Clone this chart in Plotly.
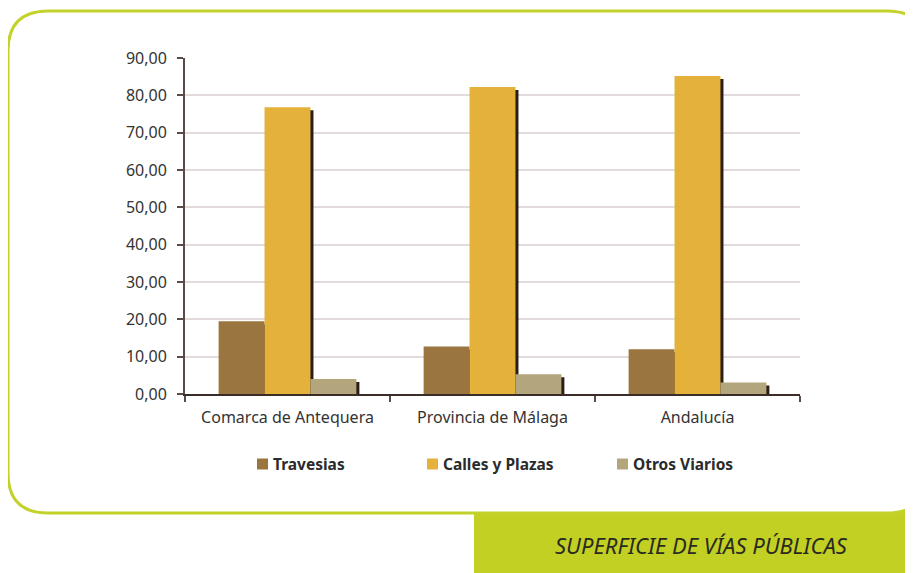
import plotly.graph_objects as go

categories = ["Comarca de Antequera", "Provincia de Málaga", "Andalucía"]
series_names = ["Travesias", "Calles y Plazas", "Otros Viarios"]
travesias = [19.5, 12.7, 12.0]
calles = [76.8, 82.2, 85.2]
otros = [4.0, 5.3, 3.1]
y_ticks = [0, 10, 20, 30, 40, 50, 60, 70, 80, 90]
title_text = "SUPERFICIE DE VÍAS PÚBLICAS"

values = [travesias, calles, otros]
colors = ["#9b7540", "#e4b13a", "#b4a67c"]
shadow_color = "#2a1e16"

OFF = 8  # browser body margin
W, H = 913 - OFF, 573 - OFF
L, R, T, B = 185, 800, 58, 394  # plot area in reference px

PW, PH = R - L, B - T

def px_x(px):
    return (px - L) / PW

def px_y(py):
    return (B - py) / PH

bar_w = 0.224
offsets = [-0.336, -0.112, 0.112]
shadow_dx = 3.0 / (PW / 3)
shadow_dy = 3.0 * 90 / PH

fig = go.Figure()
for i, vals in enumerate(values):
    fig.add_trace(go.Bar(
        x=categories, y=[max(v - shadow_dy, 0) for v in vals],
        width=bar_w, offset=offsets[i] + shadow_dx,
        marker=dict(color=shadow_color, line=dict(width=0)),
        showlegend=False, hoverinfo="skip"))
for i, vals in enumerate(values):
    fig.add_trace(go.Bar(
        x=categories, y=vals, name=series_names[i],
        width=bar_w, offset=offsets[i],
        marker=dict(color=colors[i], line=dict(width=0)),
        showlegend=False))

shapes = []
shapes.append(dict(type="rect", xref="paper", yref="paper", layer="below",
                   x0=px_x(474), x1=px_x(920), y0=px_y(490), y1=px_y(580),
                   fillcolor="#c2d024", line=dict(width=0)))
r = 40
pts = [("M", 8, 11 + r), ("Q", 8, 11, 8 + r, 11), ("L", 927 - r, 11),
       ("Q", 927, 11, 927, 11 + r), ("L", 927, 513 - r),
       ("Q", 927, 513, 927 - r, 513), ("L", 8 + r, 513),
       ("Q", 8, 513, 8, 513 - r)]
path = ""
for p in pts:
    coords = p[1:]
    s = [f"{px_x(coords[j]):.5f},{px_y(coords[j+1]):.5f}" for j in range(0, len(coords), 2)]
    path += p[0] + " " + " ".join(s) + " "
path += "Z"
shapes.append(dict(type="path", xref="paper", yref="paper", layer="below",
                   path=path, fillcolor="white",
                   line=dict(color="#c3d22a", width=3)))

annotations = []
legend_x = [257, 427, 617]
legend_y = 464
for i, name in enumerate(series_names):
    x0 = legend_x[i]
    shapes.append(dict(type="rect", xref="paper", yref="paper",
                       x0=px_x(x0), x1=px_x(x0 + 11),
                       y0=px_y(legend_y + 5.5), y1=px_y(legend_y - 5.5),
                       fillcolor=colors[i], line=dict(width=0)))
    annotations.append(dict(xref="paper", yref="paper", x=px_x(x0 + 14),
                            y=px_y(legend_y), xanchor="left", yanchor="middle",
                            text=f"<b>{name}</b>", showarrow=False,
                            font=dict(family="Noto Sans", size=15.5, color="#2b2b2b")))

annotations.append(dict(xref="paper", yref="paper", x=px_x(701), y=px_y(545),
                        xanchor="center", yanchor="middle", showarrow=False,
                        text=f"<i>{title_text}</i>",
                        font=dict(family="Noto Sans", size=22, color="#2a2a20")))

fig.update_layout(
    width=W, height=H,
    margin=dict(l=L - OFF, r=913 - R, t=T - OFF, b=573 - B, pad=0),
    paper_bgcolor="white", plot_bgcolor="rgba(0,0,0,0)",
    barmode="overlay",
    separators=",.",
    shapes=shapes, annotations=annotations,
    showlegend=False,
    font=dict(family="Noto Sans", color="#333333"),
)
fig.update_xaxes(
    type="category", showline=True, linecolor="#3a2d28", linewidth=2,
    ticks="outside", tickson="boundaries", ticklen=6, tickcolor="#5a4a48",
    tickwidth=1.5, showgrid=False, ticklabelstandoff=8,
    tickfont=dict(family="Noto Sans", size=16, color="#333333"),
)
fig.update_yaxes(
    range=[0, 90], tickvals=y_ticks, tickformat=".2f",
    showline=True, linecolor="#5a4a4a", linewidth=2,
    ticks="outside", ticklen=6, tickcolor="#5a4a48", tickwidth=2,
    showgrid=True, gridcolor="#e2dadb", gridwidth=1.5,
    zeroline=False, ticklabelstandoff=7,
    tickfont=dict(family="Noto Sans", size=16, color="#333333"),
)

fig.write_html("out.html")
